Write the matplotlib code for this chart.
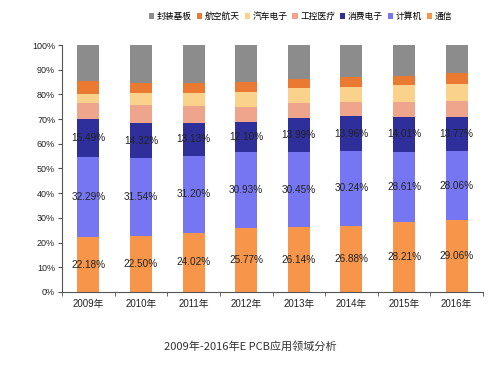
import matplotlib
matplotlib.use('Agg')
import matplotlib.pyplot as plt
import numpy as np

plt.rcParams['font.family'] = ['Liberation Sans', 'Noto Sans CJK SC', 'DejaVu Sans']

years = ['2009年', '2010年', '2011年', '2012年', '2013年', '2014年', '2015年', '2016年']
series_names = ['通信', '计算机', '消费电子', '工控医疗', '汽车电子', '航空航天', '封装基板']

tongxin = [22.18, 22.50, 24.02, 25.77, 26.14, 26.88, 28.21, 29.06]
jisuanji = [32.29, 31.54, 31.20, 30.93, 30.45, 30.24, 28.61, 28.06]
xiaofei = [15.49, 14.32, 13.13, 12.10, 13.99, 13.96, 14.01, 13.77]
gongkong = [6.6, 7.2, 6.8, 6.2, 6.0, 5.9, 6.2, 6.5]
qiche = [3.8, 5.2, 5.6, 6.1, 6.1, 6.1, 6.8, 6.7]
hangkong = [5.1, 4.0, 4.0, 4.0, 3.5, 3.8, 3.6, 4.4]
fengzhuang = [14.5, 15.3, 15.3, 14.9, 13.8, 13.1, 12.6, 11.5]

colors = ['#F7964A', '#7676F2', '#2F2F9C', '#EFA58C', '#FBD28C', '#EA7A32', '#8C8C8C']
data = [tongxin, jisuanji, xiaofei, gongkong, qiche, hangkong, fengzhuang]

fig = plt.figure(figsize=(5.01, 3.69), dpi=100, facecolor='white')
ax = fig.add_axes([0.124, 0.209, 0.840, 0.669])

x = np.arange(len(years))
bottom = np.zeros(len(years))
bars = []
for vals, c, name in zip(data, colors, series_names):
    b = ax.bar(x, vals, 0.42, bottom=bottom, color=c, label=name, linewidth=0)
    bars.append(b)
    bottom += np.array(vals)

# 前三个系列加数据标签
for vals, b in zip(data[:3], bars[:3]):
    for rect, v in zip(b, vals):
        ax.text(rect.get_x() + rect.get_width() / 2, rect.get_y() + rect.get_height() / 2,
                '%.2f%%' % v, ha='center', va='center', fontsize=7.2, color='#222222')

ax.set_xlim(-0.5, len(years) - 0.5)
ax.set_ylim(0, 100)
ax.set_yticks(np.arange(0, 101, 10))
ax.set_yticklabels(['%d%%' % v for v in range(0, 101, 10)], fontsize=6.5, color='#222222')
ax.set_xticks(x)
ax.set_xticklabels(years, fontsize=7, color='#222222')
ax.set_xticks(np.arange(-0.5, len(years), 1), minor=True)
ax.tick_params(axis='x', which='major', length=0, pad=5)
ax.tick_params(axis='x', which='minor', length=3, direction='out', color='#555555')
ax.tick_params(axis='y', length=3, direction='out', color='#555555', pad=2)
for s in ['top', 'right']:
    ax.spines[s].set_visible(False)
for s in ['left', 'bottom']:
    ax.spines[s].set_color('#555555')

# 图例 (反序, 封装基板在前)
h, l = ax.get_legend_handles_labels()
fig.legend(h[::-1], l[::-1], loc='center', bbox_to_anchor=(0.6, 0.955), ncol=7, frameon=False,
           fontsize=6.3, handlelength=0.6, handleheight=0.6, handletextpad=0.3, columnspacing=0.55)

fig.text(0.5, 0.06, '2009年-2016年E PCB应用领域分析', ha='center', va='center', fontsize=8,
         color='#333333', family=['Noto Sans CJK SC', 'DejaVu Sans'])

fig.savefig('out.png', dpi=100)
